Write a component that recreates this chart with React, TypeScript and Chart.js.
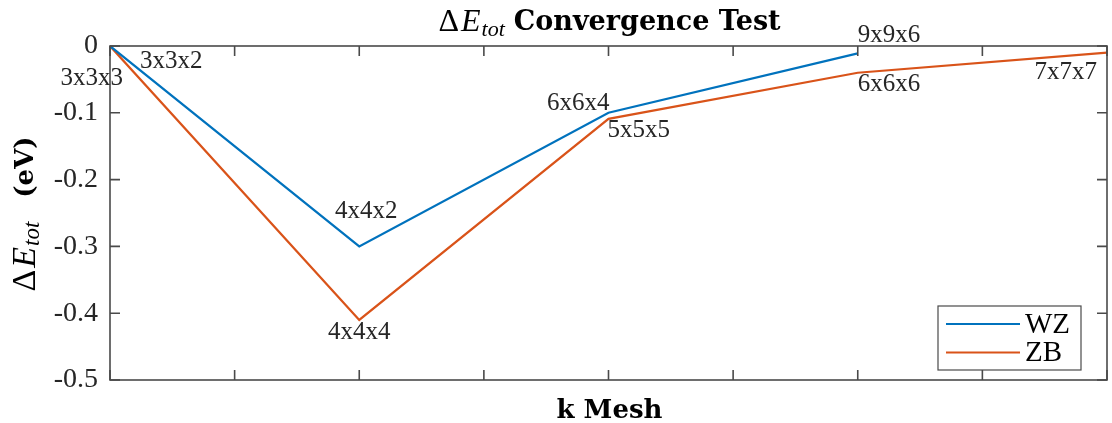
import React, { useEffect, useRef } from "react";
import { Chart, registerables } from "chart.js";

Chart.register(...registerables);

// ---- data ----
const wzX = [1, 2, 3, 4];
const wzY = [0, -0.3, -0.1, -0.011];
const wzMesh = ["3x3x2", "4x4x2", "6x6x4", "9x9x6"];

const zbX = [1, 2, 3, 4, 5];
const zbY = [0, -0.41, -0.109, -0.04, -0.01];
const zbMesh = ["3x3x3", "4x4x4", "5x5x5", "6x6x6", "7x7x7"];

const seriesNames = ["WZ", "ZB"];
const yTicks = [0, -0.1, -0.2, -0.3, -0.4, -0.5];

// ---- styling (not data) ----
const BLUE = "#0072BD";
const ORANGE = "#D95319";
const TXT = "#262626";
const AXIS = "#4a4a4a";
const SERIF = "'Liberation Serif', 'DejaVu Serif', serif";
const BOLDSERIF = "'DejaVu Serif', 'Liberation Serif', serif";

// label placement per point: [dx, dy, align]
const wzLabelPos: [number, number, CanvasTextAlign][] = [
  [30, 15, "left"],
  [7, -35, "center"],
  [1, -9, "right"],
  [0, -18, "left"],
];
const zbLabelPos: [number, number, CanvasTextAlign][] = [
  [13, 32, "right"],
  [0, 13, "center"],
  [-1, 12, "left"],
  [0, 12, "left"],
  [-10, 20, "right"],
];

type Seg = { t?: string; font?: string; dy?: number; gap?: number };

function segWidth(ctx: CanvasRenderingContext2D, segs: Seg[]) {
  let w = 0;
  for (const s of segs) {
    if (s.gap) {
      w += s.gap;
      continue;
    }
    ctx.font = s.font as string;
    w += ctx.measureText(s.t as string).width;
  }
  return w;
}
function drawSegs(ctx: CanvasRenderingContext2D, segs: Seg[], cx: number, cy: number) {
  const w = segWidth(ctx, segs);
  let x = cx - w / 2;
  ctx.textBaseline = "middle";
  ctx.textAlign = "left";
  for (const s of segs) {
    if (s.gap) {
      x += s.gap;
      continue;
    }
    ctx.font = s.font as string;
    ctx.fillText(s.t as string, x, cy + (s.dy || 0));
    x += ctx.measureText(s.t as string).width;
  }
}

const decorPlugin = {
  id: "decor",
  afterDatasetsDraw(chart: any) {
    const { ctx, chartArea: a, scales } = chart;
    const xs = scales.x;
    const ys = scales.y;
    ctx.save();

    // box
    ctx.strokeStyle = AXIS;
    ctx.lineWidth = 1.6;
    ctx.strokeRect(a.left, a.top, a.right - a.left, a.bottom - a.top);

    // inner ticks
    const tl = 10;
    ctx.beginPath();
    for (let v = 1; v <= 5.0001; v += 0.5) {
      const px = xs.getPixelForValue(v);
      ctx.moveTo(px, a.bottom);
      ctx.lineTo(px, a.bottom - tl);
      ctx.moveTo(px, a.top);
      ctx.lineTo(px, a.top + tl);
    }
    for (const v of yTicks) {
      const py = ys.getPixelForValue(v);
      ctx.moveTo(a.left, py);
      ctx.lineTo(a.left + tl, py);
      ctx.moveTo(a.right, py);
      ctx.lineTo(a.right - tl, py);
    }
    ctx.stroke();

    // point annotations
    ctx.fillStyle = TXT;
    ctx.font = `25px ${SERIF}`;
    ctx.textBaseline = "middle";
    const drawLabels = (xsArr: number[], ysArr: number[], labels: string[], pos: [number, number, CanvasTextAlign][]) => {
      labels.forEach((lab, i) => {
        const px = xs.getPixelForValue(xsArr[i]);
        const py = ys.getPixelForValue(ysArr[i]);
        const [dx, dy, al] = pos[i];
        ctx.textAlign = al;
        ctx.fillText(lab, px + dx, py + dy);
      });
    };
    drawLabels(wzX, wzY, wzMesh, wzLabelPos);
    drawLabels(zbX, zbY, zbMesh, zbLabelPos);

    ctx.fillStyle = "#000";
    // title
    const cx = (a.left + a.right) / 2;
    drawSegs(
      ctx,
      [
        { t: "Δ", font: `32px ${SERIF}` },
        { gap: 2 },
        { t: "E", font: `italic 32px ${SERIF}` },
        { gap: 1 },
        { t: "tot", font: `italic 22px ${SERIF}`, dy: 7 },
        { gap: 9 },
        { t: "Convergence Test", font: `bold 27px ${BOLDSERIF}` },
      ],
      cx + 1,
      a.top - 23
    );

    // x title
    drawSegs(ctx, [{ t: "k Mesh", font: `bold 26px ${BOLDSERIF}` }], cx + 1, a.bottom + 31);

    // y title
    ctx.save();
    ctx.translate(26, (a.top + a.bottom) / 2 + 1);
    ctx.rotate(-Math.PI / 2);
    drawSegs(
      ctx,
      [
        { t: "Δ", font: `34px ${SERIF}` },
        { gap: 2 },
        { t: "E", font: `italic 34px ${SERIF}` },
        { gap: 1 },
        { t: "tot", font: `italic 23px ${SERIF}`, dy: 7 },
        { gap: 24 },
        { t: "(eV)", font: `bold 26px ${BOLDSERIF}` },
      ],
      0,
      0
    );
    ctx.restore();

    // legend
    const bx1 = a.right - 26;
    const by1 = a.bottom - 10;
    const bx0 = bx1 - 143;
    const by0 = by1 - 64;
    ctx.fillStyle = "#ffffff";
    ctx.fillRect(bx0, by0, bx1 - bx0, by1 - by0);
    ctx.strokeStyle = AXIS;
    ctx.lineWidth = 1.2;
    ctx.strokeRect(bx0, by0, bx1 - bx0, by1 - by0);
    const colors = [BLUE, ORANGE];
    seriesNames.forEach((n, i) => {
      const ly = by0 + 18 + i * 28.5;
      ctx.strokeStyle = colors[i];
      ctx.lineWidth = 2.2;
      ctx.beginPath();
      ctx.moveTo(bx0 + 8, ly);
      ctx.lineTo(bx0 + 82, ly);
      ctx.stroke();
      ctx.fillStyle = "#000";
      ctx.font = `29px ${SERIF}`;
      ctx.textAlign = "left";
      ctx.textBaseline = "middle";
      ctx.fillText(n, bx0 + 87, ly + 1);
    });

    ctx.restore();
  },
};

export default function App() {
  const ref = useRef<HTMLCanvasElement>(null);
  useEffect(() => {
    if (!ref.current) return;
    const chart = new Chart(ref.current, {
      type: "line",
      data: {
        datasets: [
          {
            label: seriesNames[0],
            data: wzX.map((x, i) => ({ x, y: wzY[i] })),
            borderColor: BLUE,
            backgroundColor: BLUE,
            borderWidth: 2.2,
            pointRadius: 0,
            tension: 0,
          },
          {
            label: seriesNames[1],
            data: zbX.map((x, i) => ({ x, y: zbY[i] })),
            borderColor: ORANGE,
            backgroundColor: ORANGE,
            borderWidth: 2.2,
            pointRadius: 0,
            tension: 0,
          },
        ],
      },
      options: {
        responsive: false,
        animation: false,
        layout: { padding: { top: 46, right: 5, left: 0, bottom: 0 } },
        plugins: {
          legend: { display: false },
          title: { display: false },
          tooltip: { enabled: false },
        },
        scales: {
          x: {
            type: "linear",
            min: 1,
            max: 5,
            ticks: { display: false, stepSize: 0.5 },
            grid: { display: false, drawTicks: false },
            border: { display: false },
            afterFit: (s: any) => {
              s.height = 43;
            },
          },
          y: {
            type: "linear",
            min: -0.5,
            max: 0,
            afterBuildTicks: (s: any) => {
              s.ticks = yTicks.map((v) => ({ value: v }));
            },
            ticks: {
              padding: 12,
              color: TXT,
              font: { family: SERIF, size: 28 },
              callback: (v: any) => (Math.abs(Number(v)) < 1e-9 ? "0" : Number(v).toFixed(1)),
            },
            grid: { display: false, drawTicks: false },
            border: { display: false },
            afterFit: (s: any) => {
              s.width = 110;
            },
          },
        },
      } as any,
      plugins: [decorPlugin],
    });
    return () => chart.destroy();
  }, []);
  return (
    <div style={{ position: "absolute", left: 0, top: 0, width: 1112, height: 423, background: "#fff" }}>
      <canvas ref={ref} width={1112} height={423} style={{ display: "block" }} />
    </div>
  );
}
